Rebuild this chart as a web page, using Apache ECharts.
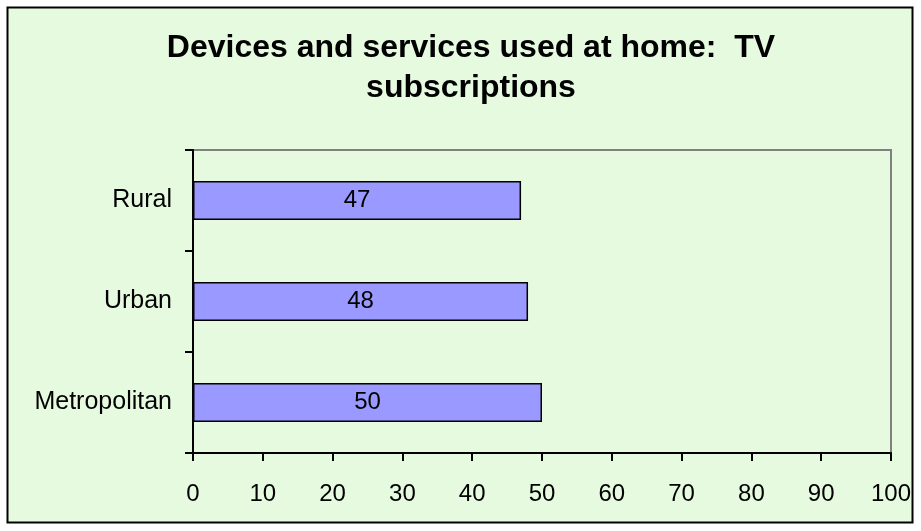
<!DOCTYPE html>
<html>
<head>
<meta charset="utf-8">
<script src="https://cdn.jsdelivr.net/npm/echarts@6/dist/echarts.min.js"></script>
<style>
  html, body { margin: 0; padding: 0; background: #ffffff; }
  #chart { width: 921px; height: 531px; }
</style>
</head>
<body>
<div id="chart"></div>
<script>
// Share of households with a TV subscription, by area type
const categories = ['Metropolitan', 'Urban', 'Rural'];
const values = [50, 48, 47];
const xTicks = [0, 10, 20, 30, 40, 50, 60, 70, 80, 90, 100];

const chart = echarts.init(document.getElementById('chart'), null, { renderer: 'canvas' });

const font = 'Arial, "Liberation Sans", sans-serif';

chart.setOption({
  animation: false,
  backgroundColor: '#ffffff',
  graphic: [
    {
      type: 'rect',
      z: -10,
      shape: { x: 7.5, y: 7.5, width: 905, height: 515 },
      style: { fill: '#E6FAE0', stroke: '#000000', lineWidth: 2 }
    },
    {
      type: 'rect',
      z: -5,
      shape: { x: 193, y: 150, width: 698, height: 303 },
      style: { fill: 'none', stroke: '#808080', lineWidth: 2 }
    }
  ],
  title: {
    text: 'Devices and services used at home:  TV\nsubscriptions',
    left: 466,
    top: 23,
    textAlign: 'center',
    textStyle: {
      fontFamily: font,
      fontSize: 32,
      fontWeight: 'bold',
      color: '#000000',
      lineHeight: 40
    }
  },
  grid: {
    left: 193,
    top: 150,
    width: 698,
    height: 303,
    containLabel: false
  },
  xAxis: {
    type: 'value',
    min: 0,
    max: 100,
    interval: 10,
    axisLine: { show: true, lineStyle: { color: '#000000', width: 2 } },
    axisTick: { show: true, length: 8, lineStyle: { color: '#000000', width: 2 } },
    axisLabel: {
      margin: 29,
      fontFamily: font,
      fontSize: 24,
      color: '#000000',
      formatter: v => xTicks.includes(v) ? String(v) : ''
    },
    splitLine: { show: false }
  },
  yAxis: {
    type: 'category',
    data: categories,
    axisLine: { show: true, lineStyle: { color: '#000000', width: 2 } },
    axisTick: { show: true, length: 8, lineStyle: { color: '#000000', width: 2 } },
    axisLabel: {
      margin: 21,
      fontFamily: font,
      fontSize: 25,
      color: '#000000'
    },
    splitLine: { show: false }
  },
  series: [{
    type: 'bar',
    data: values,
    barWidth: '38.5%',
    itemStyle: { color: '#9999FF', borderColor: '#000000', borderWidth: 1.5 },
    label: {
      show: true,
      position: 'inside',
      fontFamily: font,
      fontSize: 24,
      color: '#000000'
    }
  }]
});
</script>
</body>
</html>
